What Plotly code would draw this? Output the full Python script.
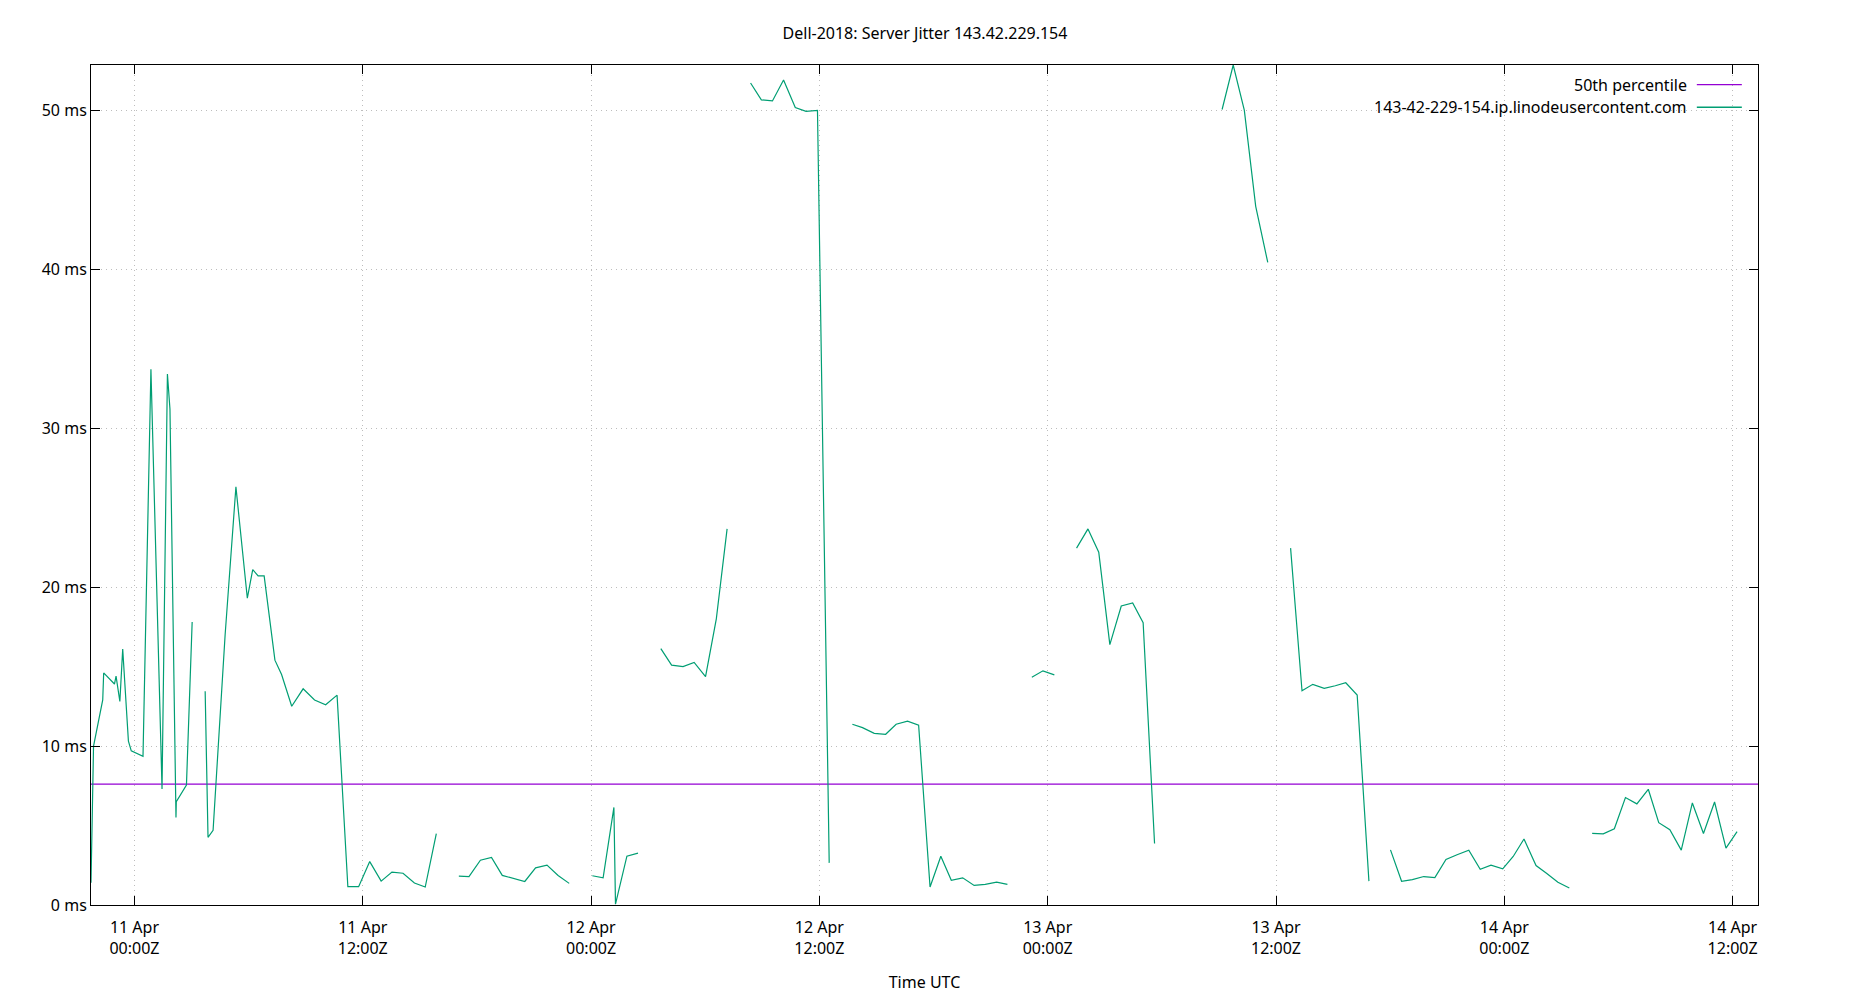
import plotly.graph_objects as go

TITLE = "Dell-2018: Server Jitter 143.42.229.154"
HOST = "143-42-229-154.ip.linodeusercontent.com"
PCT_LABEL = "50th percentile"
PERCENTILE_50 = 7.6

# Sample times (UTC) and jitter (ms); None marks a gap in the data
times = [
    "2024-04-10 21:43", "2024-04-10 21:51", "2024-04-10 22:20", "2024-04-10 22:23",
    "2024-04-10 22:57", "2024-04-10 23:02", "2024-04-10 23:14", "2024-04-10 23:23",
    "2024-04-10 23:41", "2024-04-10 23:50", "2024-04-11 00:27", "2024-04-11 00:52",
    "2024-04-11 01:27", "2024-04-11 01:44", "2024-04-11 01:52", "2024-04-11 02:11",
    "2024-04-11 02:12", "2024-04-11 02:44", "2024-04-11 03:02", "2024-04-11 03:20",
    "2024-04-11 03:43", "2024-04-11 03:52", "2024-04-11 04:08", "2024-04-11 04:46",
    "2024-04-11 05:20", "2024-04-11 05:56", "2024-04-11 06:13", "2024-04-11 06:30",
    "2024-04-11 06:49", "2024-04-11 07:23", "2024-04-11 07:44", "2024-04-11 08:16",
    "2024-04-11 08:52", "2024-04-11 09:28", "2024-04-11 10:03", "2024-04-11 10:39",
    "2024-04-11 11:13", "2024-04-11 11:47", "2024-04-11 12:22", "2024-04-11 12:58",
    "2024-04-11 13:32", "2024-04-11 14:07", "2024-04-11 14:43", "2024-04-11 15:17",
    "2024-04-11 15:52", "2024-04-11 16:30",
    "2024-04-11 17:03", "2024-04-11 17:35", "2024-04-11 18:11", "2024-04-11 18:46",
    "2024-04-11 19:20", "2024-04-11 19:55", "2024-04-11 20:31", "2024-04-11 21:05",
    "2024-04-11 21:41", "2024-04-11 22:16", "2024-04-11 22:51", "2024-04-11 23:30",
    "2024-04-12 00:04", "2024-04-12 00:38", "2024-04-12 01:12", "2024-04-12 01:17",
    "2024-04-12 01:53", "2024-04-12 02:28", "2024-04-12 03:05",
    "2024-04-12 03:40", "2024-04-12 04:14", "2024-04-12 04:50", "2024-04-12 05:25",
    "2024-04-12 06:01", "2024-04-12 06:35", "2024-04-12 07:09", "2024-04-12 07:45",
    "2024-04-12 08:23", "2024-04-12 08:57", "2024-04-12 09:32", "2024-04-12 10:07",
    "2024-04-12 10:44", "2024-04-12 11:18", "2024-04-12 11:54", "2024-04-12 12:31",
    "2024-04-12 13:10",
    "2024-04-12 13:44", "2024-04-12 14:16", "2024-04-12 14:53", "2024-04-12 15:29",
    "2024-04-12 16:02", "2024-04-12 16:38", "2024-04-12 17:13", "2024-04-12 17:49",
    "2024-04-12 18:23", "2024-04-12 18:56", "2024-04-12 19:32", "2024-04-12 20:08",
    "2024-04-12 20:43", "2024-04-12 21:19", "2024-04-12 21:53", "2024-04-12 22:30",
    "2024-04-12 23:10", "2024-04-12 23:45", "2024-04-13 00:21", "2024-04-13 00:55",
    "2024-04-13 01:31", "2024-04-13 02:07", "2024-04-13 02:41", "2024-04-13 03:16",
    "2024-04-13 03:52", "2024-04-13 04:28", "2024-04-13 05:01", "2024-04-13 05:37",
    "2024-04-13 07:00",
    "2024-04-13 09:10", "2024-04-13 09:45", "2024-04-13 10:20", "2024-04-13 10:56",
    "2024-04-13 11:34", "2024-04-13 12:10",
    "2024-04-13 12:46", "2024-04-13 13:22", "2024-04-13 13:56", "2024-04-13 14:32",
    "2024-04-13 15:07", "2024-04-13 15:40", "2024-04-13 16:16", "2024-04-13 16:53",
    "2024-04-13 17:25",
    "2024-04-13 18:01", "2024-04-13 18:36", "2024-04-13 19:10", "2024-04-13 19:46",
    "2024-04-13 20:21", "2024-04-13 20:56", "2024-04-13 21:31", "2024-04-13 22:08",
    "2024-04-13 22:44", "2024-04-13 23:18", "2024-04-13 23:55", "2024-04-14 00:28",
    "2024-04-14 01:02", "2024-04-14 01:40", "2024-04-14 02:14", "2024-04-14 02:49",
    "2024-04-14 03:25", "2024-04-14 04:00",
    "2024-04-14 04:37", "2024-04-14 05:12", "2024-04-14 05:47", "2024-04-14 06:22",
    "2024-04-14 06:58", "2024-04-14 07:34", "2024-04-14 08:07", "2024-04-14 08:42",
    "2024-04-14 09:18", "2024-04-14 09:53", "2024-04-14 10:28", "2024-04-14 11:03",
    "2024-04-14 11:39", "2024-04-14 12:14",
]

jitter_ms = [
    1.4, 10.0, 12.9, 14.6,
    13.9, 14.4, 12.8, 16.1,
    10.3, 9.7, 9.35, 33.7,
    7.3, 33.4, 31.2, 5.5,
    6.5, 7.55, 17.8, None,
    13.45, 4.26, 4.7, 17.0,
    26.3, 19.3, 21.1, 20.7,
    20.7, 15.4, 14.5, 12.5,
    13.6, 12.9, 12.6, 13.2,
    1.15, 1.15, 2.73, 1.5,
    2.07, 2.0, 1.38, 1.13,
    4.49, None,
    1.82, 1.78, 2.82, 2.99,
    1.86, 1.69, 1.48, 2.34,
    2.51, 1.86, 1.36, None,
    1.84, 1.71, 6.14, 0.05,
    3.07, 3.26, None,
    16.13, 15.09, 15.0, 15.26,
    14.36, 18.0, 23.66, None,
    51.71, 50.65, 50.58, 51.9,
    50.17, 49.92, 49.98, 2.65,
    None,
    11.37, 11.16, 10.8, 10.74,
    11.37, 11.56, 11.31, 1.13,
    3.07, 1.55, 1.71, 1.23,
    1.3, 1.44, 1.3, None,
    14.32, 14.73, 14.48, None,
    22.45, 23.66, 22.19, 16.38,
    18.81, 19.0, 17.76, 3.87,
    None,
    50.04, 52.84, 50.0, 43.95,
    40.42, None,
    22.45, 13.48, 13.88, 13.63,
    13.79, 13.98, 13.21, 1.5,
    None,
    3.47, 1.49, 1.6, 1.79,
    1.73, 2.86, 3.16, 3.45,
    2.25, 2.51, 2.27, 3.05,
    4.15, 2.48, 1.98, 1.43,
    1.07, None,
    4.5, 4.48, 4.8, 6.76,
    6.36, 7.28, 5.18, 4.74,
    3.45, 6.42, 4.5, 6.48,
    3.58, 4.61,
]

x_tick_vals = [
    "2024-04-11 00:00", "2024-04-11 12:00", "2024-04-12 00:00", "2024-04-12 12:00",
    "2024-04-13 00:00", "2024-04-13 12:00", "2024-04-14 00:00", "2024-04-14 12:00",
]
x_tick_text = [
    "11 Apr<br>00:00Z", "11 Apr<br>12:00Z", "12 Apr<br>00:00Z", "12 Apr<br>12:00Z",
    "13 Apr<br>00:00Z", "13 Apr<br>12:00Z", "14 Apr<br>00:00Z", "14 Apr<br>12:00Z",
]
y_tick_vals = [0, 10, 20, 30, 40, 50]
y_tick_text = ["0 ms", "10 ms", "20 ms", "30 ms", "40 ms", "50 ms"]
x_range = ["2024-04-10 21:43", "2024-04-14 13:20"]
y_range = [0, 52.84]

GREEN = "#009e73"
PURPLE = "#9400d3"
FONT = "Noto Sans"

fig = go.Figure()
fig.add_trace(go.Scatter(
    x=times, y=jitter_ms, mode="lines", connectgaps=False,
    line=dict(color=GREEN, width=1.2), name=HOST, showlegend=False,
))

# 50th percentile: horizontal line across the plot
fig.add_shape(type="line", xref="paper", x0=0, x1=1, yref="y",
              y0=PERCENTILE_50, y1=PERCENTILE_50,
              line=dict(color=PURPLE, width=1.3), layer="between")

# legend (gnuplot style: text right-aligned, sample to the right), opaque box
fig.add_shape(type="rect", xref="paper", yref="paper",
              x0=0.748, x1=0.9955, y0=0.928, y1=0.994,
              fillcolor="white", line=dict(width=0), layer="between")
legend_items = [(PCT_LABEL, PURPLE, 0.9766), (HOST, GREEN, 0.9497)]
for label, color, yp in legend_items:
    fig.add_annotation(xref="paper", yref="paper", x=0.9585, y=yp, text=label,
                       showarrow=False, xanchor="right", yanchor="middle",
                       font=dict(family=FONT, size=16, color="black"))
    fig.add_shape(type="line", xref="paper", yref="paper", x0=0.9633, x1=0.9903,
                  y0=yp, y1=yp, line=dict(color=color, width=1.3), layer="above")

axis_common = dict(
    showline=True, linecolor="black", linewidth=1, mirror="allticks",
    ticks="inside", ticklen=9, tickwidth=1, tickcolor="black",
    showgrid=True, gridcolor="#bdbdbd", griddash="1px,4px", gridwidth=1,
    zeroline=False, tickfont=dict(family=FONT, size=16, color="black"),
)

fig.update_xaxes(type="date", range=x_range, tickmode="array",
                 tickvals=x_tick_vals, ticktext=x_tick_text, ticklabelstandoff=8,
                 title=dict(text="Time UTC", font=dict(family=FONT, size=16, color="black"),
                            standoff=18),
                 **axis_common)
fig.update_yaxes(range=y_range, tickmode="array", tickvals=y_tick_vals,
                 ticktext=y_tick_text, **axis_common)

fig.update_layout(
    width=1850, height=1000,
    margin=dict(l=91, r=92, t=65, b=90, pad=0),
    paper_bgcolor="white", plot_bgcolor="white",
    title=dict(text=TITLE, x=0.5, xanchor="center", y=0.967, yanchor="middle",
               yref="container", font=dict(family=FONT, size=16, color="black")),
    font=dict(family=FONT, size=16, color="black"),
    showlegend=False,
)

fig.write_html("out.html", include_plotlyjs=True, config={"displayModeBar": False},
               post_script="document.body.style.margin='0';document.body.style.overflow='hidden';")
